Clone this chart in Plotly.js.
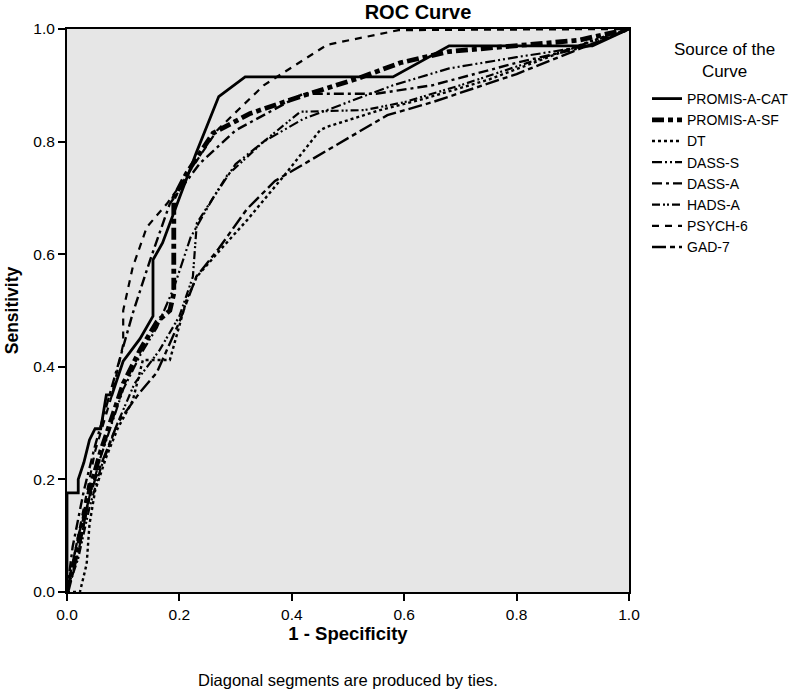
<!DOCTYPE html>
<html>
<head>
<meta charset="utf-8">
<script src="https://cdn.plot.ly/plotly-3.0.1.min.js"></script>
<style>html,body{margin:0;padding:0;background:#fff;}#chart{width:796px;height:693px;}</style>
</head>
<body>
<div id="chart"></div>
<script>
// Series names (legend order)
const seriesNames = ["PROMIS-A-CAT", "PROMIS-A-SF", "DT", "DASS-S", "DASS-A", "HADS-A", "PSYCH-6", "GAD-7"];

// 1 - Specificity (x) and Sensitivity (y) per curve
const catX = [0, 0, 0.02, 0.02, 0.03, 0.04, 0.05, 0.06, 0.07, 0.08, 0.1, 0.13, 0.153, 0.153, 0.17, 0.2, 0.23, 0.27, 0.317, 0.58, 0.68, 0.935, 1];
const catY = [0, 0.176, 0.176, 0.2, 0.23, 0.27, 0.29, 0.29, 0.35, 0.35, 0.41, 0.45, 0.49, 0.59, 0.62, 0.7, 0.78, 0.88, 0.915, 0.915, 0.97, 0.97, 1];

const sfX = [0, 0.02, 0.04, 0.06, 0.08, 0.1, 0.13, 0.16, 0.183, 0.19, 0.19, 0.213, 0.26, 0.326, 0.415, 0.52, 0.593, 0.68, 0.91, 1];
const sfY = [0, 0.08, 0.18, 0.25, 0.31, 0.37, 0.43, 0.48, 0.5, 0.53, 0.7, 0.744, 0.815, 0.85, 0.88, 0.913, 0.94, 0.96, 0.98, 1];

const dtX = [0, 0.023, 0.035, 0.04, 0.05, 0.07, 0.09, 0.117, 0.135, 0.183, 0.213, 0.231, 0.272, 0.32, 0.39, 0.45, 0.462, 0.557, 0.628, 0.75, 0.936, 1];
const dtY = [0, 0, 0.05, 0.12, 0.18, 0.24, 0.29, 0.34, 0.412, 0.412, 0.52, 0.56, 0.607, 0.66, 0.744, 0.82, 0.826, 0.856, 0.874, 0.91, 0.98, 1];

const dassSX = [0, 0.02, 0.04, 0.06, 0.08, 0.1, 0.13, 0.16, 0.19, 0.22, 0.26, 0.3, 0.35, 0.42, 0.5, 0.58, 0.68, 0.8, 0.93, 1];
const dassSY = [0, 0.07, 0.17, 0.24, 0.3, 0.36, 0.42, 0.47, 0.54, 0.63, 0.7, 0.76, 0.8, 0.84, 0.87, 0.9, 0.93, 0.95, 0.97, 1];

const dassAX = [0, 0.01, 0.03, 0.05, 0.07, 0.09, 0.117, 0.148, 0.183, 0.237, 0.3, 0.42, 0.55, 0.65, 0.8, 0.93, 1];
const dassAY = [0, 0.08, 0.18, 0.26, 0.33, 0.4, 0.495, 0.59, 0.69, 0.762, 0.82, 0.885, 0.885, 0.9, 0.94, 0.97, 1];

const hadsX = [0, 0.02, 0.04, 0.06, 0.09, 0.12, 0.165, 0.2, 0.224, 0.231, 0.26, 0.285, 0.35, 0.415, 0.53, 0.6, 0.7, 0.85, 1];
const hadsY = [0, 0.06, 0.15, 0.22, 0.3, 0.37, 0.43, 0.49, 0.56, 0.655, 0.7, 0.74, 0.8, 0.853, 0.856, 0.87, 0.9, 0.95, 1];

const psychX = [0, 0.01, 0.03, 0.05, 0.08, 0.1, 0.1, 0.117, 0.142, 0.178, 0.207, 0.267, 0.35, 0.463, 0.59, 1];
const psychY = [0, 0.05, 0.15, 0.25, 0.35, 0.44, 0.5, 0.577, 0.648, 0.69, 0.73, 0.82, 0.9, 0.972, 0.998, 1];

const gadX = [0, 0.02, 0.05, 0.09, 0.13, 0.16, 0.2, 0.23, 0.27, 0.32, 0.37, 0.43, 0.5, 0.57, 0.65, 0.8, 0.9, 1];
const gadY = [0, 0.1, 0.2, 0.3, 0.355, 0.39, 0.48, 0.56, 0.61, 0.68, 0.73, 0.765, 0.806, 0.847, 0.87, 0.92, 0.96, 1];

const tickVals = [0, 0.2, 0.4, 0.6, 0.8, 1.0];
const tickText = ["0.0", "0.2", "0.4", "0.6", "0.8", "1.0"];

const xs = [catX, sfX, dtX, dassSX, dassAX, hadsX, psychX, gadX];
const ys = [catY, sfY, dtY, dassSY, dassAY, hadsY, psychY, gadY];
const widths = [2.8, 4.8, 2.4, 2.2, 2.4, 2.2, 2.2, 2.4];
const dashes = ["solid", "12px,4px,5px,4px", "3px,3px", "10px,3px,2px,3px,2px,3px", "10px,4px,3px,4px", "8px,3px,2px,2px,2px,3px", "7px,6px", "14px,4px,5px,4px"];

const traces = seriesNames.map((n, i) => ({
  type: "scatter",
  mode: "lines",
  name: n,
  x: xs[i],
  y: ys[i],
  line: {color: "#000000", width: widths[i], dash: dashes[i]},
  hoverinfo: "skip"
}));

const FONT = "Liberation Sans, Arial, sans-serif";

const axisCommon = {
  range: [0, 1],
  tickvals: tickVals,
  ticktext: tickText,
  ticks: "outside",
  ticklen: 7,
  tickwidth: 2,
  tickcolor: "#000",
  showline: true,
  linecolor: "#000",
  linewidth: 2,
  mirror: true,
  showgrid: false,
  zeroline: false,
  tickfont: {family: FONT, size: 15.5, color: "#000"},
  fixedrange: true
};

const layout = {
  width: 796,
  height: 693,
  margin: {l: 67, r: 167, t: 29, b: 101},
  paper_bgcolor: "#ffffff",
  plot_bgcolor: "#e6e6e6",
  font: {family: FONT, color: "#000"},
  title: {
    text: "<b>ROC Curve</b>",
    font: {family: FONT, size: 20, color: "#000"},
    x: 418 / 796, xref: "container", xanchor: "center",
    y: 1 - 12 / 693, yref: "container", yanchor: "middle"
  },
  xaxis: Object.assign({}, axisCommon, {
    title: {text: "<b>1 - Specificity</b>", font: {family: FONT, size: 18.5, color: "#000"}, standoff: 5}
  }),
  yaxis: Object.assign({}, axisCommon, {
    title: {text: "<b>Sensitivity</b>", font: {family: FONT, size: 17.5, color: "#000"}, standoff: 10}
  }),
  showlegend: true,
  legend: {
    xref: "container", yref: "container",
    x: 647 / 796, xanchor: "left",
    y: 1 - 83 / 693, yanchor: "top",
    bgcolor: "rgba(0,0,0,0)",
    font: {family: FONT, size: 14, color: "#000"},
    tracegroupgap: 0,
    itemwidth: 30
  },
  annotations: [
    {
      text: "Source of the<br>Curve",
      xref: "paper", yref: "paper",
      x: (725 - 67) / 562, y: (592 - 60) / 563,
      xanchor: "center", yanchor: "middle",
      align: "center",
      showarrow: false,
      font: {family: FONT, size: 17, color: "#000"}
    },
    {
      text: "Diagonal segments are produced by ties.",
      xref: "paper", yref: "paper",
      x: 0.5, y: -0.156,
      xanchor: "center", yanchor: "middle",
      showarrow: false,
      font: {family: FONT, size: 16.5, color: "#000"}
    }
  ]
};

Plotly.newPlot("chart", traces, layout, {displayModeBar: false, staticPlot: true});
</script>
</body>
</html>
